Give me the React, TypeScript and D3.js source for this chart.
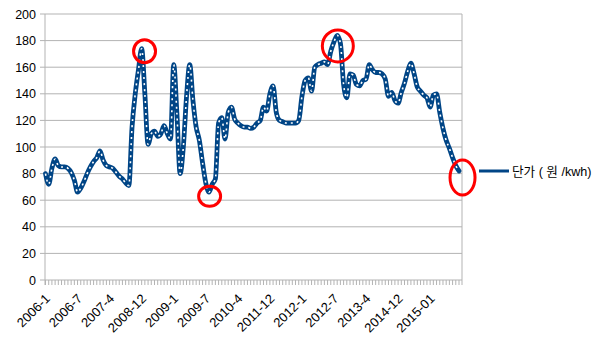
import React from "react";
import * as d3 from "d3";

const values: number[] = [
  80, 72, 84, 91, 86, 85, 85, 84, 81, 75,
  66, 69, 74, 80, 85, 89, 92, 97, 90, 86,
  85, 84, 81, 78, 76, 73, 71, 115, 140, 158,
  174, 140, 102, 110, 112, 108, 110, 116, 110, 106,
  162, 125, 80, 100, 138, 162, 135, 115, 105, 88,
  73, 66, 72, 76, 118, 122, 106, 126, 130, 121,
  118, 116, 115, 115, 114, 115, 118, 120, 130, 127,
  140, 146, 126, 120, 119, 118, 118, 118, 118, 120,
  138, 150, 152, 142, 160, 162, 163, 164, 162, 172,
  179, 184, 178, 147, 137, 155, 154, 147, 146, 150,
  151, 162, 158, 156, 156, 155, 151, 138, 141, 135,
  133, 141, 148, 157, 163, 155, 145, 142, 139, 137,
  130, 139, 140, 126, 114, 105, 99, 92, 86, 82,
];

const tickLabels: string[] = [
  "2006-1", "2006-7", "2007-4", "2008-12", "2009-1", "2009-7", "2010-4",
  "2011-12", "2012-1", "2012-7", "2013-4", "2014-12", "2015-01",
];
const labelEvery = 10;
const yTicks: number[] = [0, 20, 40, 60, 80, 100, 120, 140, 160, 180, 200];
const seriesName = "단가 ( 원 /kwh)";

// annotation circles: [category position, value, rx, ry]
const highlights: [number, number, number, number][] = [
  [30.9, 172, 11, 11.5],
  [51.2, 63, 11, 10],
  [91.2, 176, 15.5, 16],
  [130.1, 77, 12.5, 17.5],
];

const W = 605;
const H = 340;
const plotL = 45;
const plotR = 462;
const plotT = 14;
const plotB = 280;

export default function App() {
  const x = d3.scaleLinear().domain([0, values.length - 1]).range([45.5, 459]);
  const y = d3.scaleLinear().domain([0, 200]).range([plotB, plotT]);
  const line = d3
    .line<number>()
    .x((_, i) => x(i))
    .y((d) => y(d))
    .curve(d3.curveMonotoneX);
  const path = line(values) || "";
  const font = "'Liberation Sans', Arial, 'Noto Sans CJK KR', sans-serif";
  const idx = d3.range(values.length);

  return (
    <div style={{ position: "fixed", left: 0, top: 0 }}>
      <svg width={W} height={H} style={{ display: "block", background: "#fff" }}>
        {yTicks.map((t) => (
          <g key={t}>
            <line x1={plotL} x2={plotR} y1={y(t)} y2={y(t)} stroke="#b3b3b3" strokeWidth={1} />
            <line x1={plotL - 5} x2={plotL} y1={y(t)} y2={y(t)} stroke="#b3b3b3" strokeWidth={1} />
            <text x={36} y={y(t)} dy="0.36em" textAnchor="end" fontFamily={font} fontSize={12.5} fill="#000">
              {t}
            </text>
          </g>
        ))}
        <line x1={plotL} x2={plotL} y1={plotT} y2={plotB + 5} stroke="#b3b3b3" />
        <line x1={plotR} x2={plotR} y1={plotT} y2={plotB + 5} stroke="#b3b3b3" />
        {idx.map((i) => (
          <line key={i} x1={x(i)} x2={x(i)} y1={plotB} y2={plotB + 5} stroke="#b3b3b3" />
        ))}
        {tickLabels.map((lab, k) => {
          const px = x(k * labelEvery);
          return (
            <text
              key={lab}
              transform={`translate(${px - 1},${plotB + 13}) rotate(-45)`}
              textAnchor="end"
              dy="0.7em"
              fontFamily={font}
              fontSize={13}
              fill="#000"
            >
              {lab}
            </text>
          );
        })}
        <path d={path} fill="none" stroke="#004586" strokeWidth={4.8} strokeLinejoin="round" strokeLinecap="round" />
        <path d={path} fill="none" stroke="#ffffff" strokeWidth={1.6} strokeDasharray="2,4" strokeLinecap="butt" />
        {highlights.map(([i, v, rx, ry], k) => (
          <ellipse key={k} cx={x(i)} cy={y(v)} rx={rx} ry={ry} fill="none" stroke="#ff0000" strokeWidth={3} />
        ))}
        <line x1={479} x2={509} y1={171} y2={171} stroke="#004586" strokeWidth={3} />
        <text x={512} y={171} dy="0.36em" fontFamily={font} fontSize={12.6} fill="#000">
          {seriesName}
        </text>
      </svg>
    </div>
  );
}
